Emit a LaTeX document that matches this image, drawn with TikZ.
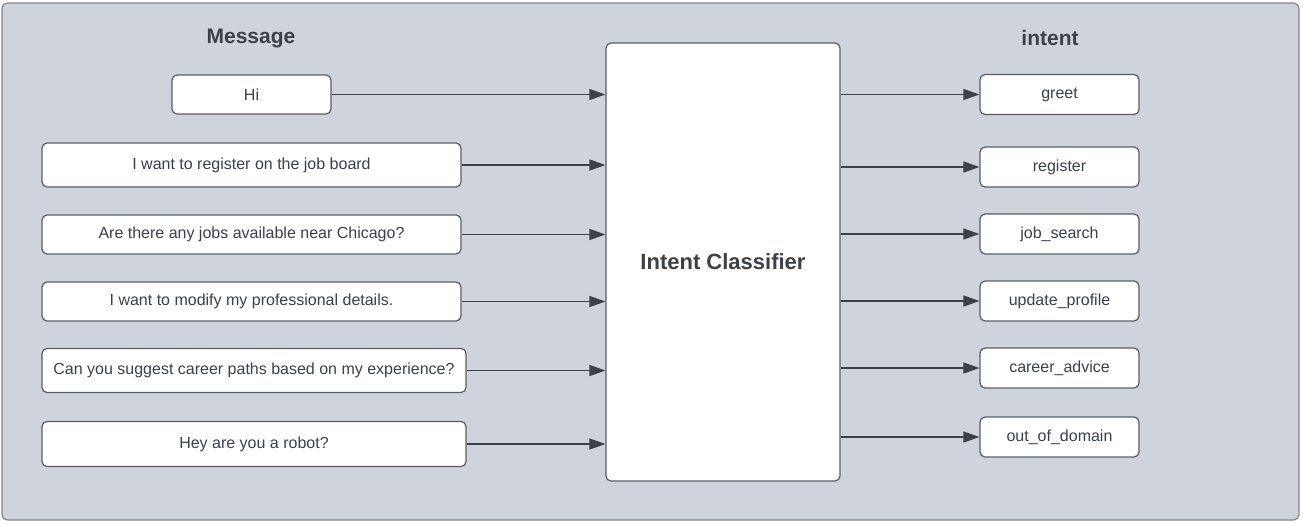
\documentclass[tikz,border=0pt]{standalone}
\usepackage{fontspec}
\setmainfont{Liberation Sans}
\usetikzlibrary{arrows.meta}

\definecolor{panelgray}{RGB}{206,211,220}
\definecolor{edgegray}{RGB}{128,132,140}
\definecolor{inkgray}{RGB}{60,64,72}

\begin{document}
\begin{tikzpicture}[
    x=1pt,y=-1pt,
    >={Triangle[length=16pt,width=11pt]},
    line width=1.4pt,
    msg/.style={
        draw=inkgray!85, line width=1.2pt,
        rectangle, rounded corners=5pt,
        fill=white,
        minimum height=39pt,
        inner sep=0pt,
        align=center,
        font=\fontsize{16}{19}\selectfont,
        text=inkgray
    },
    label/.style={
        draw=none,
        inner sep=0pt,
        font=\fontsize{21}{25}\selectfont\bfseries,
        text=inkgray
    },
    flow/.style={->, draw=inkgray, line width=1.3pt}
]
\useasboundingbox (0,0) rectangle (1303,523);

% ====== 背景 ======
\draw[fill=panelgray, draw=edgegray, line width=1.2pt, rounded corners=6pt]
    (2,3) rectangle (1299,520);

% ====== 標題 ======
\node[label] (msgtitle) at (251,38)  {Message};
\node[label] (inttitle) at (1050,38) {intent};

% ====== 分類器 ======
\node[msg, minimum width=234pt, minimum height=438pt,
      font=\fontsize{22}{26}\selectfont\bfseries] (clf) at (723,262) {Intent Classifier};

% ====== 左側:訊息 ======
\node[msg, minimum width=159pt] (msghi)     at (251.5,94.5)  {Hi};
\node[msg, minimum width=419pt, minimum height=44pt] (msgreg) at (251.5,165) {I want to register on the job board};
\node[msg, minimum width=419pt] (msgjobs)   at (251.5,234.5) {Are there any jobs available near Chicago?};
\node[msg, minimum width=419pt] (msgmodify) at (251.5,301.5) {I want to modify my professional details.};
\node[msg, minimum width=424pt, minimum height=44pt] (msgcareer) at (254,370.5) {Can you suggest career paths based on my experience?};
\node[msg, minimum width=424pt, minimum height=45pt] (msgrobot)  at (254,444)   {Hey are you a robot?};

% 訊息 → 分類器
\draw[flow] (msghi.east)     -- (msghi.east -| clf.west);
\draw[flow] (msgreg.east)    -- (msgreg.east -| clf.west);
\draw[flow] (msgjobs.east)   -- (msgjobs.east -| clf.west);
\draw[flow] (msgmodify.east) -- (msgmodify.east -| clf.west);
\draw[flow] (msgcareer.east) -- (msgcareer.east -| clf.west);
\draw[flow] (msgrobot.east)  -- (msgrobot.east -| clf.west);

% ====== 右側:意圖 ======
\node[msg, minimum width=159pt, minimum height=40pt] (intgreet)   at (1059.5,94.5) {greet};
\node[msg, minimum width=159pt, minimum height=40pt] (intreg)     at (1059.5,167)  {register};
\node[msg, minimum width=159pt, minimum height=40pt] (intsearch)  at (1059.5,234)  {job\_search};
\node[msg, minimum width=159pt, minimum height=40pt] (intprofile) at (1059.5,301)  {update\_profile};
\node[msg, minimum width=159pt, minimum height=40pt] (intcareer)  at (1059.5,368)  {career\_advice};
\node[msg, minimum width=159pt, minimum height=40pt] (intother)   at (1059.5,437)  {out\_of\_domain};

% 分類器 → 意圖
\draw[flow] (intgreet.west -| clf.east)   -- (intgreet.west);
\draw[flow] (intreg.west -| clf.east)     -- (intreg.west);
\draw[flow] (intsearch.west -| clf.east)  -- (intsearch.west);
\draw[flow] (intprofile.west -| clf.east) -- (intprofile.west);
\draw[flow] (intcareer.west -| clf.east)  -- (intcareer.west);
\draw[flow] (intother.west -| clf.east)   -- (intother.west);

\end{tikzpicture}
\end{document}
